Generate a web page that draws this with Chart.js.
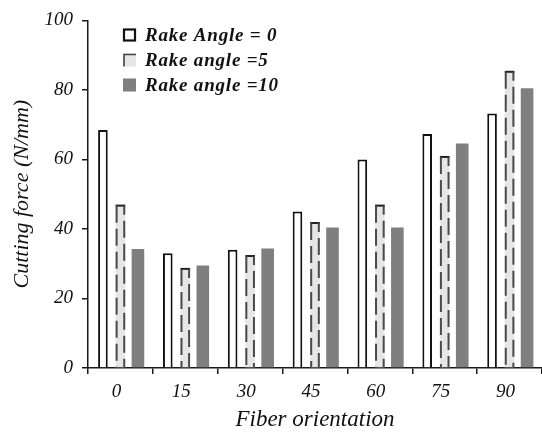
<!DOCTYPE html>
<html>
<head>
<meta charset="utf-8">
<script src="https://cdn.jsdelivr.net/npm/chart.js@4.4.1/dist/chart.umd.min.js"></script>
<style>
  html, body { margin: 0; padding: 0; background: #ffffff; }
  #wrap { position: relative; width: 542px; height: 434px; }
</style>
</head>
<body>
<div id="wrap"><canvas id="c" width="542" height="434"></canvas></div>
<script>
// ---- data ----
const categories = ['0', '15', '30', '45', '60', '75', '90'];
const seriesLabels = ['Rake Angle = 0', 'Rake angle =5', 'Rake angle =10'];
const rake0 = [68.5, 33, 34, 45, 60, 67.3, 73.2];
const rake5 = [47, 28.8, 32.5, 42, 47, 61, 85.5];
const rake10 = [34.2, 29.5, 34.4, 40.4, 40.4, 64.6, 80.5];
const yTicks = [0, 20, 40, 60, 80, 100];
const xTitle = 'Fiber orientation';
const yTitle = 'Cutting force (N/mm)';

const SERIF = "'Liberation Serif', 'DejaVu Serif', serif";
const AXIS = '#1a1a1a';
const LIGHT = '#e6e6e6';
const DARK = '#7f7f7f';

// draws dashed sides + solid top on the light bars, using element geometry from Chart.js
const dashedBars = {
  id: 'dashedBars',
  afterDatasetsDraw(chart) {
    const ctx = chart.ctx;
    const meta = chart.getDatasetMeta(1);
    ctx.save();
    meta.data.forEach(el => {
      const p = el.getProps(['x', 'y', 'base', 'width'], true);
      const l = p.x - p.width / 2 + 1, r = p.x + p.width / 2 - 1;
      ctx.setLineDash([]);
      ctx.strokeStyle = '#222';
      ctx.lineWidth = 2;
      ctx.beginPath();
      ctx.moveTo(l - 1, p.y + 1); ctx.lineTo(r + 1, p.y + 1);
      ctx.stroke();
      ctx.strokeStyle = '#4a4a4a';
      ctx.setLineDash([17, 6]);
      ctx.beginPath();
      ctx.moveTo(l, p.y + 1); ctx.lineTo(l, p.base);
      ctx.stroke();
      ctx.lineDashOffset = 8;
      ctx.beginPath();
      ctx.moveTo(r, p.y + 1); ctx.lineTo(r, p.base);
      ctx.stroke();
      ctx.lineDashOffset = 0;
    });
    ctx.restore();
  }
};

// legend drawn inside the plot area, vertical list
const innerLegend = {
  id: 'innerLegend',
  afterDraw(chart) {
    const ctx = chart.ctx;
    const x0 = 123, rows = [35, 60, 85], box = 13;
    ctx.save();
    ctx.font = "italic bold 19px " + SERIF;
    ctx.textBaseline = 'middle';
    ctx.textAlign = 'left';
    if ('letterSpacing' in ctx) ctx.letterSpacing = '0.8px';
    chart.data.datasets.forEach((ds, i) => {
      const cy = rows[i];
      const bx = x0, by = cy - box / 2;
      if (i === 0) {
        ctx.fillStyle = '#fff';
        ctx.fillRect(bx, by, box, box);
        ctx.strokeStyle = '#111'; ctx.lineWidth = 2.2;
        ctx.strokeRect(bx + 1, by + 1, box - 2, box - 2);
      } else if (i === 1) {
        ctx.fillStyle = LIGHT;
        ctx.fillRect(bx, by, box, box);
        ctx.strokeStyle = '#444'; ctx.lineWidth = 1.6;
        ctx.beginPath();
        ctx.moveTo(bx + 1, by + box); ctx.lineTo(bx + 1, by + 1); ctx.lineTo(bx + box, by + 1);
        ctx.stroke();
      } else {
        ctx.fillStyle = DARK;
        ctx.fillRect(bx, by, box, box);
      }
      ctx.fillStyle = '#111';
      ctx.fillText(ds.label, 145, cy + 1);
    });
    ctx.restore();
  }
};

new Chart(document.getElementById('c'), {
  type: 'bar',
  data: {
    labels: categories,
    datasets: [
      { label: seriesLabels[0], data: rake0, backgroundColor: '#ffffff', borderColor: '#111',
        borderWidth: 2, borderSkipped: 'start', barPercentage: 0.55 },
      { label: seriesLabels[1], data: rake5, backgroundColor: LIGHT, borderWidth: 0,
        barPercentage: 0.55 },
      { label: seriesLabels[2], data: rake10, backgroundColor: DARK, borderWidth: 0,
        barPercentage: 0.72 }
    ]
  },
  options: {
    responsive: false,
    animation: false,
    devicePixelRatio: 1,
    layout: { padding: { top: 18, right: 0, left: 0, bottom: 0 } },
    datasets: { bar: { categoryPercentage: 0.81 } },
    plugins: {
      legend: { display: false },
      tooltip: { enabled: false },
      title: { display: false }
    },
    scales: {
      x: {
        offset: true,
        grid: { display: true, offset: true, drawOnChartArea: false, drawTicks: true,
                tickLength: 6, color: AXIS, lineWidth: 1.5 },
        border: { display: true, color: AXIS, width: 1.5 },
        ticks: { color: '#111', font: { family: SERIF, size: 19, style: 'italic' },
                 padding: 7, labelOffset: -4, maxRotation: 0 },
        title: { display: true, text: xTitle, color: '#111',
                 font: { family: SERIF, size: 23, style: 'italic' }, padding: { top: 0, bottom: 0 } },
        afterFit(s) { s.height = 66; }
      },
      y: {
        min: 0, max: 100,
        afterBuildTicks(s) { s.ticks = yTicks.map(v => ({ value: v })); },
        grid: { display: true, drawOnChartArea: false, drawTicks: true, tickLength: 6,
                color: AXIS, lineWidth: 1.5 },
        border: { display: true, color: AXIS, width: 1.5 },
        ticks: { color: '#111', font: { family: SERIF, size: 19, style: 'italic' }, padding: 9 },
        title: { display: true, text: yTitle, color: '#111',
                 font: { family: SERIF, size: 22, style: 'italic' }, padding: { top: 9, bottom: 0 } },
        afterFit(s) { s.width = 88; }
      }
    }
  },
  plugins: [dashedBars, innerLegend]
});
</script>
</body>
</html>
